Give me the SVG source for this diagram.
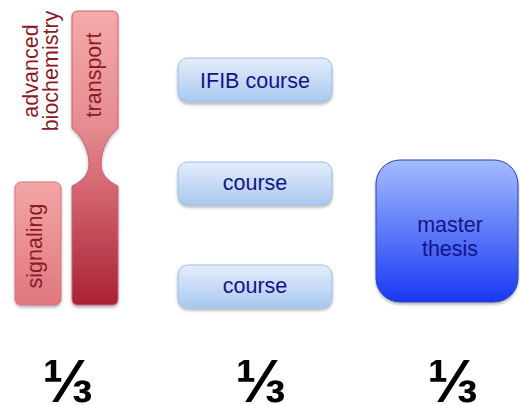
<svg xmlns="http://www.w3.org/2000/svg" width="520" height="405" viewBox="0 0 520 405">
<defs>
<linearGradient id="gTrans" x1="0" y1="0" x2="0" y2="1">
<stop offset="0" stop-color="#f6aaaa"/>
<stop offset="0.4" stop-color="#e58a90"/>
<stop offset="0.6" stop-color="#d46670"/>
<stop offset="1" stop-color="#a82234"/>
</linearGradient>
<linearGradient id="gSig" x1="0" y1="0" x2="0" y2="1">
<stop offset="0" stop-color="#f4a6a6"/>
<stop offset="1" stop-color="#df777f"/>
</linearGradient>
<linearGradient id="gCourse" x1="0" y1="0" x2="0" y2="1">
<stop offset="0" stop-color="#e4eefb"/>
<stop offset="1" stop-color="#a9c8ef"/>
</linearGradient>
<linearGradient id="gThesis" x1="0" y1="0" x2="0" y2="1">
<stop offset="0" stop-color="#a4bcff"/>
<stop offset="1" stop-color="#1838f2"/>
</linearGradient>
<filter id="sh" x="-20%" y="-20%" width="140%" height="140%">
<feDropShadow dx="0" dy="2" stdDeviation="1.5" flood-color="#000" flood-opacity="0.3"/>
</filter>
<style>
.red { font-family: "Liberation Sans", Arial, sans-serif; font-size: 21.5px; fill: #8a1a22; text-anchor: middle; }
.blue { font-family: "Liberation Sans", Arial, sans-serif; font-size: 21.5px; fill: #14148a; text-anchor: middle; }
.frac { font-family: "Liberation Sans", Arial, sans-serif; font-size: 61px; font-weight: bold; fill: #000; text-anchor: middle; }
.course { fill: url(#gCourse); stroke: #9dbde6; stroke-width: 1; filter: url(#sh); }
</style>
</defs>
<g id="advanced-biochemistry">
<text class="red" transform="translate(38,71) rotate(-90)">advanced</text>
<text class="red" transform="translate(58,71) rotate(-90)">biochemistry</text>
</g>
<g id="transport">
<path d="M78,11 H112 Q118,11 118,17 V128 C110,134 101,148 101,164 C101,176 110,182 118,186 V299 Q118,305 112,305 H78 Q72,305 72,299 V186 C80,182 89,176 89,164 C89,148 80,134 72,128 V17 Q72,11 78,11 Z" fill="url(#gTrans)" stroke="#c46272" stroke-width="1" filter="url(#sh)"/>
<text class="red" transform="translate(101,75) rotate(-90)">transport</text>
</g>
<g id="signaling">
<rect x="15" y="182" width="46" height="123" rx="6" fill="url(#gSig)" stroke="#cf7480" stroke-width="1" filter="url(#sh)"/>
<text class="red" transform="translate(42,246) rotate(-90)">signaling</text>
</g>
<g id="ifib-course">
<rect class="course" x="178" y="58" width="154" height="44" rx="10"/>
<text class="blue" x="255" y="88">IFIB course</text>
</g>
<g id="course-1">
<rect class="course" x="178" y="162" width="154" height="43" rx="10"/>
<text class="blue" x="255" y="190">course</text>
</g>
<g id="course-2">
<rect class="course" x="178" y="265" width="154" height="43" rx="10"/>
<text class="blue" x="255" y="293">course</text>
</g>
<g id="master-thesis">
<rect x="376" y="160" width="142" height="142" rx="24" fill="url(#gThesis)" stroke="#2a44b8" stroke-width="1" filter="url(#sh)"/>
<text class="blue" x="450" y="232">master</text>
<text class="blue" x="450" y="256">thesis</text>
</g>
<g id="fractions">
<text class="frac" x="68" y="402">⅓</text>
<text class="frac" x="261" y="402">⅓</text>
<text class="frac" x="453" y="402">⅓</text>
</g>
<g id="connectors"/>
</svg>
